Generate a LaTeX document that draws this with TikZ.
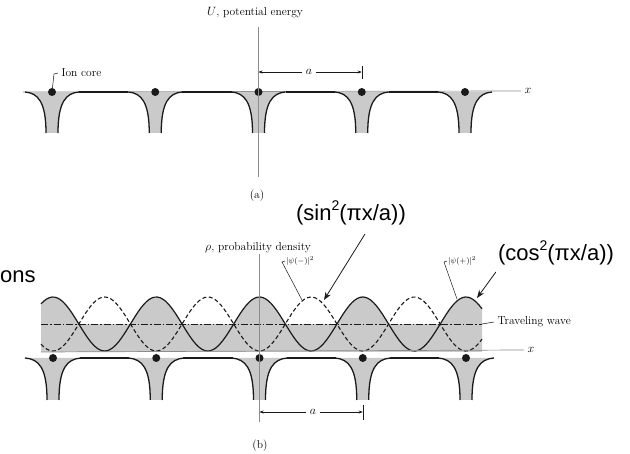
\documentclass[tikz,border=0pt]{standalone}
\usepackage{fontspec}
\newfontfamily\sansbig{Liberation Sans}
\usetikzlibrary{arrows.meta,positioning,calc}
\definecolor{figink}{HTML}{1A1A1A}
\definecolor{figgray}{HTML}{CACACA}
\definecolor{axisgray}{HTML}{8C8C8C}
\newcommand{\sqsup}{\raisebox{0.42em}{\fontsize{14}{14}\selectfont 2}}

\begin{document}
\begin{tikzpicture}[x=1pt, y=-1pt, font=\fontsize{11.5}{13}\selectfont,
  ion/.style={circle, fill=figink, inner sep=0pt, minimum size=8pt},
  wellline/.style={figink, line width=1.3pt},
  axisline/.style={axisgray, line width=0.7pt},
  biglabel/.style={font=\sansbig\fontsize{22}{25}\selectfont, inner sep=0pt},
  bigarrow/.style={-{Stealth[length=8pt,width=6pt]}, figink, line width=0.8pt},
  leader/.style={figink, line width=0.5pt},
  dimarrow/.style={-{Stealth[length=4pt,width=3pt]}, figink, line width=0.5pt},
  psilabel/.style={font=\fontsize{8.5}{9}\selectfont, inner sep=1pt}]

  \useasboundingbox (0,0) rectangle (630,454);

  % (a) potential energy
  \node (ulabel) at (255,13) {$U$, potential energy};
  \coordinate (uaxtop) at (258.5,27);
  \coordinate (uaxbot) at (258.5,177);
  \coordinate (xaxAstart) at (23,92);
  \node (xlabelA) at (528,91) {$x$};
  \draw[axisline] (xaxAstart) -- (xlabelA.west);
  \foreach \c in {52,155.25,258.5,361.75}
    \draw[wellline] (\c+27,92) -- (\c+76.25,92);
  \foreach \c [count=\i] in {52,155.25,258.5,361.75,465} {
    \fill[figgray] (\c-27,92) .. controls (\c-14,93) and (\c-6,102) .. (\c-6,133)
      -- (\c+6,133) .. controls (\c+6,102) and (\c+14,93) .. (\c+27,92) -- cycle;
    \draw[wellline] (\c-27,92) .. controls (\c-14,93) and (\c-6,102) .. (\c-6,133);
    \draw[wellline] (\c+6,133) .. controls (\c+6,102) and (\c+14,93) .. (\c+27,92);
    \node[ion] (ionA\i) at (\c,92) {};
  }
  \draw[axisline] (uaxtop) -- (uaxbot);
  \node[anchor=west] (ioncore) at (58,73) {Ion core};
  \draw[leader] (ioncore.west) -- ++(-4,1) -- (ionA1);
  \node (dimA) at (309,72) {$a$};
  \coordinate (tickA) at (ionA4 |- dimA);
  \draw[dimarrow] (dimA) -- (ionA3 |- dimA);
  \draw[dimarrow] (dimA) -- (tickA);
  \draw[leader] ($(tickA)+(0,-6)$) -- ($(tickA)+(0,7)$);
  \node (capA) at (257,196) {(a)};

  % (b) probability density
  \node (rholabel) at (258,248) {$\rho$, probability density};
  \fill[figgray] (41,324) rectangle (482,352);
  \fill[figgray] (41,352) -- plot[domain=41:482, samples=160]
    (\x,{351-54*cos(((\x-53)/103.25)*180)*cos(((\x-53)/103.25)*180)}) -- (482,352) -- cycle;
  \draw[figink, line width=1.1pt, dash pattern=on 4pt off 2.5pt] plot[domain=41:482, samples=160]
    (\x,{351-54*sin(((\x-53)/103.25)*180)*sin(((\x-53)/103.25)*180)});
  \draw[figink, line width=1.2pt] plot[domain=41:482, samples=160]
    (\x,{351-54*cos(((\x-53)/103.25)*180)*cos(((\x-53)/103.25)*180)});
  \coordinate (travstart) at (41,324);
  \coordinate (travend) at (482,324);
  \draw[figink, line width=0.5pt, dash pattern=on 7pt off 2pt on 1.5pt off 2pt] (travstart) -- (travend);
  \node[anchor=west] (travlabel) at (494,322) {Traveling wave};
  \draw[leader] (travend) -- (travlabel.west);

  \coordinate (xaxBstart) at (41,352);
  \node (xlabelB) at (531,350) {$x$};
  \draw[axisline] (xaxBstart) -- (xlabelB.west);
  \foreach \c in {53,156.25,259.5,362.75}
    \draw[wellline] (\c+27,358) -- (\c+76.25,358);
  \foreach \c [count=\i] in {53,156.25,259.5,362.75,466} {
    \fill[figgray] (\c-28,358) .. controls (\c-14,359) and (\c-6,368) .. (\c-6,400)
      -- (\c+6,400) .. controls (\c+6,368) and (\c+14,359) .. (\c+28,358) -- cycle;
    \draw[wellline] (\c-28,358) .. controls (\c-14,359) and (\c-6,368) .. (\c-6,400);
    \draw[wellline] (\c+6,400) .. controls (\c+6,368) and (\c+14,359) .. (\c+28,358);
    \node[ion] (ionB\i) at (\c,358) {};
  }
  \coordinate (rhoaxtop) at (259.5,254);
  \coordinate (rhoaxbot) at (259.5,422);
  \draw[axisline] (rhoaxtop) -- (rhoaxbot);
  \node (dimB) at (313,412) {$a$};
  \coordinate (tickB) at (ionB4 |- dimB);
  \draw[dimarrow] (dimB) -- (ionB3 |- dimB);
  \draw[dimarrow] (dimB) -- (tickB);
  \draw[leader] ($(tickB)+(0,-7)$) -- ($(tickB)+(0,8)$);
  \node (capB) at (260,446) {(b)};

  % curve labels
  \node[psilabel, anchor=west] (psiminus) at (285,261) {$|\psi(-)|^2$};
  \coordinate (psimtip) at (302,300);
  \draw[leader] (psiminus.west) -- ++(-3,1) -- (psimtip);
  \node[psilabel, anchor=west] (psiplus) at (447,261) {$|\psi(+)|^2$};
  \coordinate (psiptip) at (457,299);
  \draw[leader] (psiplus.west) -- ++(-3,1) -- (psiptip);

  \node[biglabel] (sinlabel) at (351,213) {(sin\sqsup(πx/a))};
  \coordinate (sintip) at (324,300);
  \draw[bigarrow] ([xshift=14pt,yshift=-9pt]sinlabel.south) -- (sintip);
  \node[biglabel] (coslabel) at (556,253) {(cos\sqsup(πx/a))};
  \coordinate (costip) at (477,298);
  \draw[bigarrow] ([xshift=-2pt,yshift=-7pt]coslabel.south west) -- (costip);
  \node[biglabel, anchor=west] (onslabel) at (0,277) {ons};
\end{tikzpicture}
\end{document}
